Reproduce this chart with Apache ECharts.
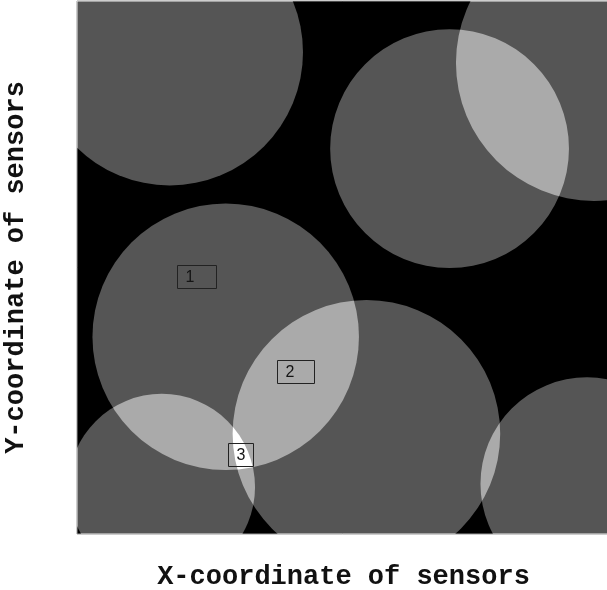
<!DOCTYPE html>
<html>
<head>
<meta charset="utf-8">
<script src="https://cdn.jsdelivr.net/npm/echarts@6/dist/echarts.min.js"></script>
<style>
  html, body { margin: 0; padding: 0; background: #ffffff; }
  #chart { width: 607px; height: 590px; }
</style>
</head>
<body>
<div id="chart"></div>
<script>
// Sensor sensing disks (data units, 0..100 field)
const sensorX = [17.4, 69.9, 97.0, 27.9, 54.3, 15.9, 95.7];
const sensorY = [90.4, 72.3, 88.4, 37.0, 18.8, 8.8, 9.4];
const sensorRadius = [25.0, 22.4, 25.9, 25.0, 25.1, 17.5, 20.0];

// Region labels (left-middle anchor of each box, data units)
const regionLabels = ['1', '2', '3'];
const regionX = [18.8, 37.5, 28.3];
const regionY = [48.4, 30.4, 15.0];

const xAxisTitle = 'X-coordinate of sensors';
const yAxisTitle = 'Y-coordinate of sensors';

const sensorData = sensorX.map((x, i) => [x, sensorY[i], sensorRadius[i]]);
const labelData = regionX.map((x, i) => [x, regionY[i], regionLabels[i]]);
const boxWidths = [39, 37, 25];

const chart = echarts.init(document.getElementById('chart'), null, { renderer: 'canvas' });

const titleStyle = {
  fontFamily: 'Liberation Mono',
  fontWeight: 'bold',
  fontSize: 27,
  color: '#111111'
};

chart.setOption({
  animation: false,
  backgroundColor: '#ffffff',
  grid: {
    left: 77, top: 1, width: 533, height: 533,
    containLabel: false,
    outerBoundsMode: 'none',
    show: true,
    backgroundColor: '#000000',
    borderColor: '#9a9a9a',
    borderWidth: 1
  },
  xAxis: {
    type: 'value', min: 0, max: 100,
    name: xAxisTitle, nameLocation: 'middle', nameGap: 30,
    nameTextStyle: titleStyle,
    axisLine: { show: false }, axisTick: { show: false },
    axisLabel: { show: false }, splitLine: { show: false }
  },
  yAxis: {
    type: 'value', min: 0, max: 100,
    name: yAxisTitle, nameLocation: 'middle', nameGap: 47,
    nameTextStyle: titleStyle,
    axisLine: { show: false }, axisTick: { show: false },
    axisLabel: { show: false }, splitLine: { show: false }
  },
  series: [
    {
      type: 'custom',
      data: sensorData,
      clip: true,
      silent: true,
      blendMode: 'lighter',
      renderItem: function (params, api) {
        const c = api.coord([api.value(0), api.value(1)]);
        const r = api.size([api.value(2), 0])[0];
        const cs = params.coordSys;
        return {
          type: 'circle',
          shape: { cx: c[0], cy: c[1], r: r },
          style: { fill: '#555555' },
          clipPath: {
            type: 'rect',
            shape: { x: cs.x, y: cs.y, width: cs.width, height: cs.height }
          }
        };
      }
    },
    {
      type: 'custom',
      data: labelData,
      silent: true,
      z: 5,
      renderItem: function (params, api) {
        const p = api.coord([api.value(0), api.value(1)]);
        const w = boxWidths[params.dataIndex];
        const h = 23;
        const x0 = Math.round(p[0]) + 0.5;
        const y0 = Math.round(p[1] - h / 2) + 0.5;
        return {
          type: 'group',
          children: [
            {
              type: 'rect',
              shape: { x: x0, y: y0, width: w, height: h },
              style: { fill: 'none', stroke: '#222222', lineWidth: 1 }
            },
            {
              type: 'text',
              style: {
                x: x0 + 8, y: y0 + h / 2 + 1,
                text: String(api.value(2)),
                fill: '#141414',
                font: '16px "Liberation Sans"',
                align: 'left', verticalAlign: 'middle'
              }
            }
          ]
        };
      }
    }
  ]
});
</script>
</body>
</html>
